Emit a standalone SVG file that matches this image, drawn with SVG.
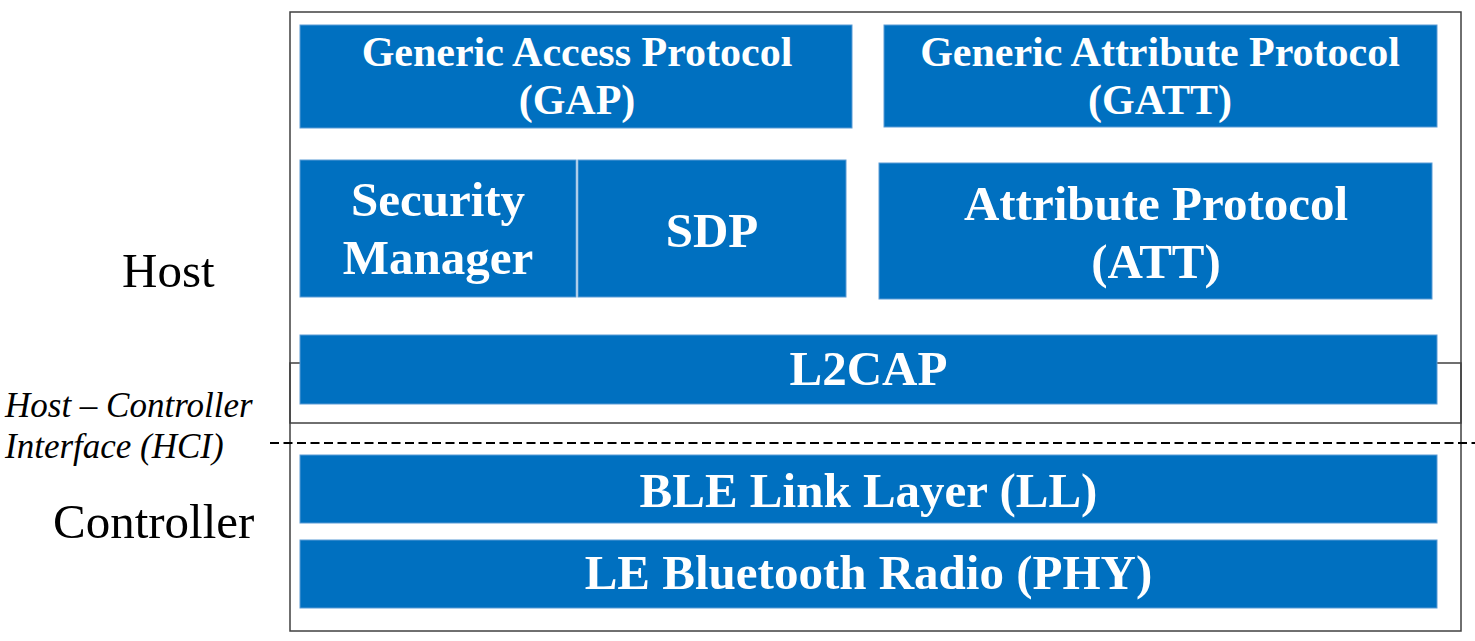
<svg xmlns="http://www.w3.org/2000/svg" width="1475" height="641" viewBox="0 0 1475 641">
<style>
.blk{fill:#0070C0;stroke:#5B9BD5;stroke-width:1}
.bt{font-family:"Liberation Serif","Times New Roman",serif;font-weight:bold;fill:#FFFFFF;text-anchor:middle}
.s41{font-size:42px}
.s48{font-size:49px}
.lbl{font-family:"Liberation Serif","Times New Roman",serif;fill:#000000}
.frame{fill:none;stroke:#404040;stroke-width:1.5}
</style>
<rect width="1475" height="641" fill="#FFFFFF"/>
<g id="connectors">
<rect class="frame" x="290" y="12" width="1171" height="411"/>
<rect class="frame" x="290" y="363" width="1171" height="268"/>
<line x1="270" y1="443" x2="1475" y2="443" stroke="#000000" stroke-width="2.2" stroke-dasharray="9 4.5"/>
</g>
<g id="gap">
<rect class="blk" x="300" y="25" width="552" height="103"/>
<text class="bt s41" x="577" y="66">Generic Access Protocol</text>
<text class="bt s41" x="577" y="114">(GAP)</text>
</g>
<g id="gatt">
<rect class="blk" x="884" y="25" width="553" height="102"/>
<text class="bt s41" x="1160" y="66">Generic Attribute Protocol</text>
<text class="bt s41" x="1160" y="114">(GATT)</text>
</g>
<g id="sm">
<rect class="blk" x="300" y="160" width="276" height="137"/>
<text class="bt s48" x="438" y="216">Security</text>
<text class="bt s48" x="438" y="274">Manager</text>
</g>
<g id="sdp">
<rect class="blk" x="578" y="160" width="268" height="137"/>
<text class="bt s48" x="712" y="247">SDP</text>
</g>
<g id="att">
<rect class="blk" x="879" y="163" width="553" height="136"/>
<text class="bt s48" x="1156" y="220">Attribute Protocol</text>
<text class="bt s48" x="1156" y="278">(ATT)</text>
</g>
<g id="l2cap">
<rect class="blk" x="300" y="335" width="1137" height="69"/>
<text class="bt s48" x="868.5" y="385">L2CAP</text>
</g>
<g id="ll">
<rect class="blk" x="300" y="455" width="1137" height="68"/>
<text class="bt s48" x="868.5" y="507">BLE Link Layer (LL)</text>
</g>
<g id="phy">
<rect class="blk" x="300" y="540" width="1137" height="68"/>
<text class="bt s48" x="868.5" y="589">LE Bluetooth Radio (PHY)</text>
</g>
<g id="labels">
<text class="lbl" x="122" y="287" font-size="49">Host</text>
<text class="lbl" x="5" y="417" font-size="35" font-style="italic">Host – Controller</text>
<text class="lbl" x="5" y="458" font-size="35" font-style="italic">Interface (HCI)</text>
<text class="lbl" x="53" y="538" font-size="49">Controller</text>
</g>
</svg>
